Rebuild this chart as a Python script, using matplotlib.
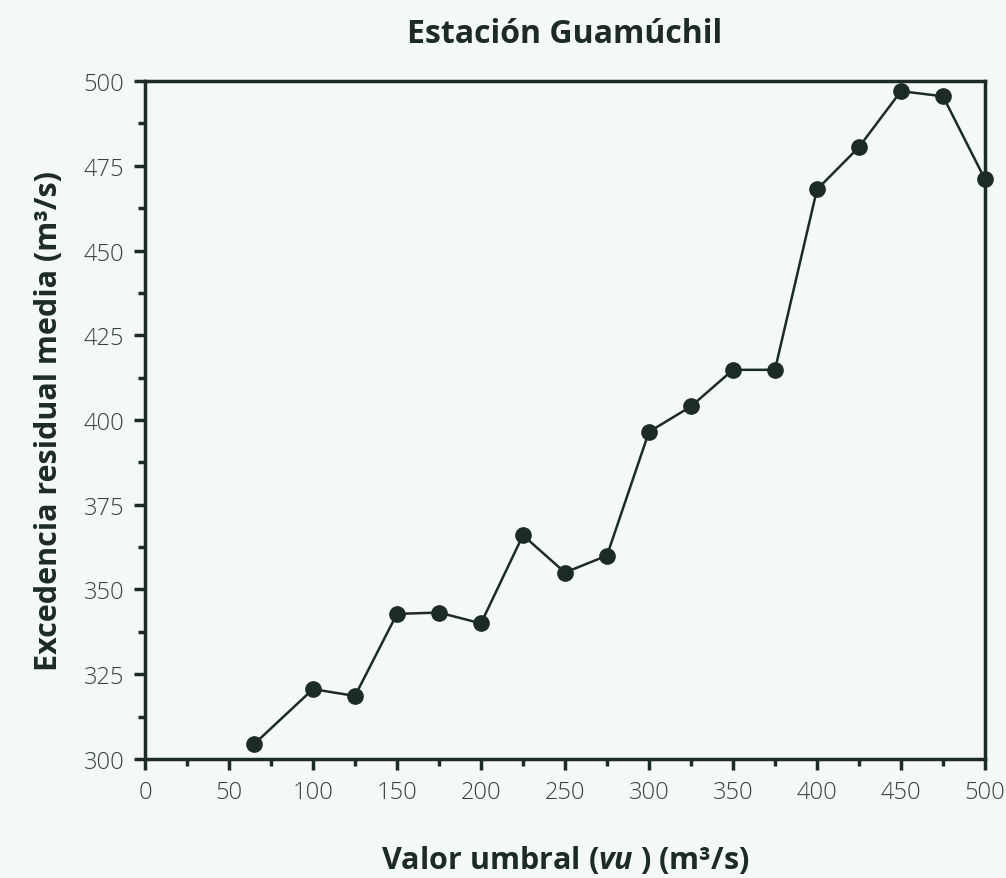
import numpy as np
import matplotlib
matplotlib.use("Agg")
import matplotlib.pyplot as plt
from matplotlib.ticker import MultipleLocator

plt.rcParams['font.family'] = ['Open Sans', 'DejaVu Sans']
plt.rcParams['mathtext.fontset'] = 'custom'
plt.rcParams['mathtext.rm'] = 'Open Sans'
plt.rcParams['mathtext.it'] = 'Open Sans:italic:bold'
plt.rcParams['mathtext.bf'] = 'Open Sans:bold'

# umbral (m3/s) and excedencia residual media (m3/s)
umbral = [65, 100, 125, 150, 175, 200, 225, 250, 275, 300, 325, 350, 375,
          400, 425, 450, 475, 500]
excedencia = [304.4, 320.6, 318.6, 342.8, 343.2, 340.0, 366.0, 355.0, 360.0,
              396.5, 404.0, 414.8, 414.8, 468.0, 480.5, 497.0, 495.5, 471.0]

dark = '#1c2b25'
bg = '#f5f8f8'

fig = plt.figure(figsize=(10.06, 8.79), dpi=100, facecolor=bg)
ax = fig.add_axes([0.1441, 0.1354, 0.835, 0.7713])
ax.set_facecolor(bg)

ax.plot(umbral, excedencia, '-o', color=dark, lw=1.8, ms=11, clip_on=False, zorder=3)

ax.set_xlim(0, 500)
ax.set_ylim(300, 500)
ax.xaxis.set_major_locator(MultipleLocator(50))
ax.xaxis.set_minor_locator(MultipleLocator(25))
ax.yaxis.set_major_locator(MultipleLocator(25))
ax.yaxis.set_minor_locator(MultipleLocator(12.5))

for s in ax.spines.values():
    s.set_color(dark)
    s.set_linewidth(2.5)

ax.tick_params(which='major', direction='out', length=8, width=2.5, color=dark,
               labelsize=17, labelcolor='#34423d', pad=7, top=False, right=False)
ax.tick_params(which='minor', direction='out', length=5, width=2.5, color=dark,
               top=False, right=False)
for lbl in ax.get_xticklabels() + ax.get_yticklabels():
    lbl.set_fontweight('light')

ax.set_title('Estación Guamúchil', fontsize=23, fontweight='bold', color=dark, pad=28)
ax.set_ylabel('Excedencia residual media (m³/s)', fontsize=22, fontweight='bold',
              color=dark, labelpad=14)
ax.set_xlabel(r'Valor umbral ($vu$ ) (m³/s)', fontsize=22, fontweight='bold',
              color=dark, labelpad=28)

fig.savefig('out.png', dpi=100, facecolor=bg)
